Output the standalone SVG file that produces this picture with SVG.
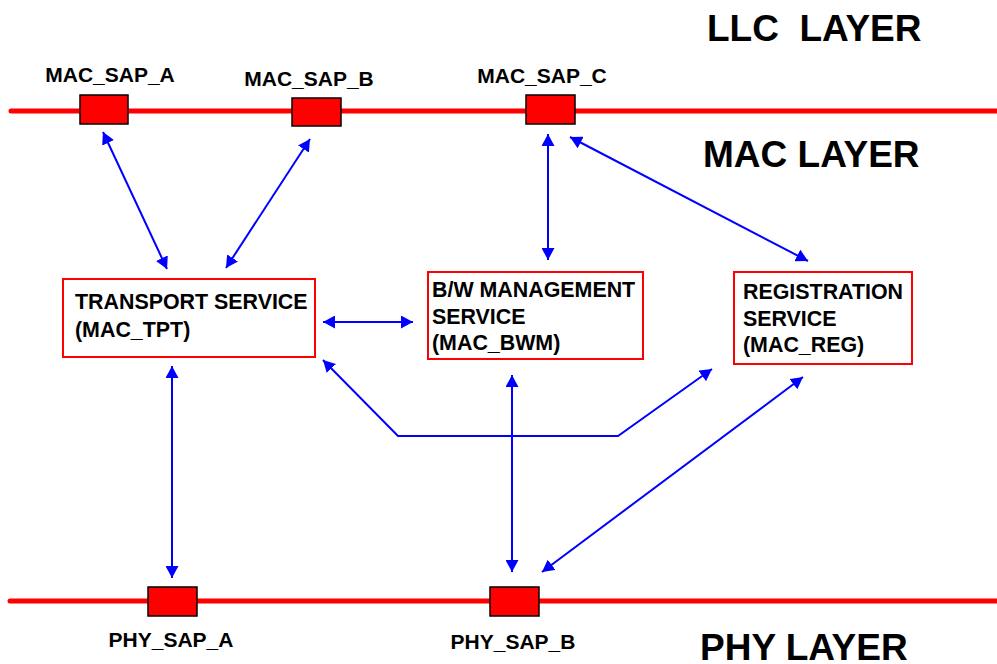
<svg xmlns="http://www.w3.org/2000/svg" width="997" height="664" viewBox="0 0 997 664">
<style>
.t{font-family:"Liberation Sans",Arial,sans-serif;font-weight:bold;fill:#000}
.lbl{font-size:21px;text-anchor:middle}
.layer{font-size:37px}
.box{font-size:21.4px}
.bus{stroke:#FF0000;stroke-width:5;stroke-linecap:round;fill:none}
.sap{fill:#FF0000;stroke:#000;stroke-width:1.5}
.svc{fill:#fff;stroke:#FF0000;stroke-width:2}
.c{stroke:#0000FF;stroke-width:2;fill:none;marker-start:url(#ah);marker-end:url(#ah)}
</style>
<defs>
<marker id="ah" markerUnits="userSpaceOnUse" markerWidth="12" markerHeight="13" refX="12" refY="6.5" orient="auto-start-reverse" viewBox="0 0 12 13">
<path d="M0,0 L12,6.5 L0,13 z" fill="#0000FF"/>
</marker>
</defs>
<rect width="997" height="664" fill="#fff"/>
<g id="layers">
<text class="t layer" x="707" y="41" xml:space="preserve" style="white-space:pre">LLC  LAYER</text>
<text class="t layer" x="703" y="167">MAC LAYER</text>
<text class="t layer" x="700" y="660">PHY LAYER</text>
</g>
<g id="buses">
<line class="bus" x1="11" y1="111" x2="1000" y2="111"/>
<line class="bus" x1="10" y1="601" x2="1000" y2="601"/>
</g>
<g id="connectors">
<line class="c" x1="103" y1="132" x2="167" y2="269"/>
<line class="c" x1="310" y1="139" x2="226" y2="268"/>
<line class="c" x1="548" y1="134" x2="548" y2="260"/>
<line class="c" x1="570" y1="137" x2="808" y2="261"/>
<line class="c" x1="323" y1="322" x2="413" y2="322"/>
<line class="c" x1="172" y1="366" x2="172" y2="578"/>
<line class="c" x1="512" y1="375" x2="512" y2="572"/>
<line class="c" x1="803" y1="377" x2="542" y2="572"/>
<polyline class="c" points="323,360 398,436 618,436 712,369"/>
</g>
<g id="mac_sap_a">
<rect class="sap" x="80" y="95" width="48" height="29"/>
<text class="t lbl" x="110" y="82">MAC_SAP_A</text>
</g>
<g id="mac_sap_b">
<rect class="sap" x="292" y="98" width="49" height="28"/>
<text class="t lbl" x="309" y="86">MAC_SAP_B</text>
</g>
<g id="mac_sap_c">
<rect class="sap" x="526" y="95" width="49" height="29"/>
<text class="t lbl" x="542" y="83">MAC_SAP_C</text>
</g>
<g id="phy_sap_a">
<rect class="sap" x="148" y="587" width="49" height="29"/>
<text class="t lbl" x="171" y="647">PHY_SAP_A</text>
</g>
<g id="phy_sap_b">
<rect class="sap" x="490" y="587" width="49" height="29"/>
<text class="t lbl" x="513" y="649">PHY_SAP_B</text>
</g>
<g id="mac_tpt">
<rect class="svc" x="63" y="279" width="252" height="78"/>
<text class="t box" x="75" y="309">TRANSPORT SERVICE</text>
<text class="t box" x="75" y="337">(MAC_TPT)</text>
</g>
<g id="mac_bwm">
<rect class="svc" x="428" y="272" width="215" height="87"/>
<text class="t box" x="432" y="297">B/W MANAGEMENT</text>
<text class="t box" x="432" y="324">SERVICE</text>
<text class="t box" x="432" y="350">(MAC_BWM)</text>
</g>
<g id="mac_reg">
<rect class="svc" x="734" y="272" width="178" height="92"/>
<text class="t box" x="743" y="299">REGISTRATION</text>
<text class="t box" x="743" y="326">SERVICE</text>
<text class="t box" x="743" y="352">(MAC_REG)</text>
</g>
</svg>
